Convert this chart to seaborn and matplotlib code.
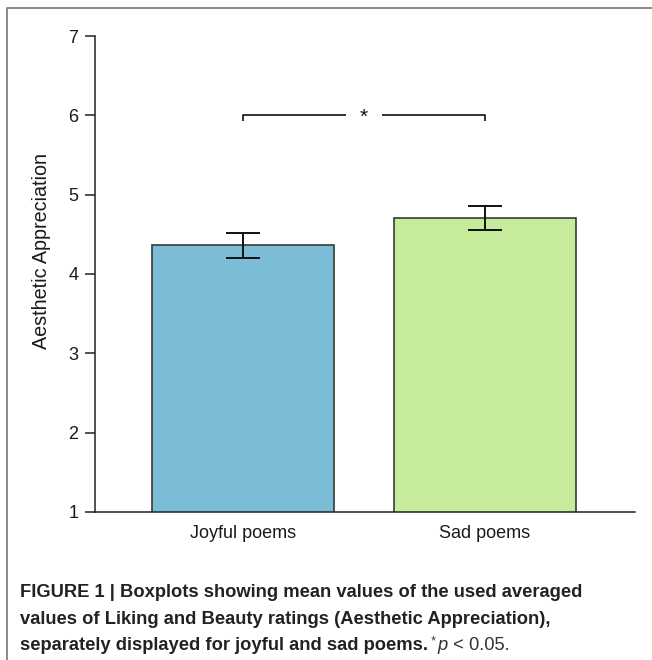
import matplotlib
matplotlib.use("Agg")
import matplotlib.pyplot as plt
from matplotlib.lines import Line2D
import numpy as np
import pandas as pd
import seaborn as sns

# ---------------------------------------------------------------------------
CATEGORIES = ["Joyful poems", "Sad poems"]
MEANS      = [4.36, 4.71]
SEMS       = [0.16, 0.15]
COLORS     = ["#7bbdd6", "#c5eb9b"]
Y_TICKS    = [1, 2, 3, 4, 5, 6, 7]
Y_LABEL    = "Aesthetic Appreciation"
SIG_LABEL  = "*"
SIG_Y      = 6.0

CAPTION_BOLD = [
    "FIGURE 1 | Boxplots showing mean values of the used averaged",
    "values of Liking and Beauty ratings (Aesthetic Appreciation),",
    "separately displayed for joyful and sad poems.",
]

sns.set_style("white")
plt.rcParams["font.family"] = ["Liberation Sans", "DejaVu Sans"]

df = pd.DataFrame({"group": CATEGORIES, "score": MEANS})

fig = plt.figure(figsize=(6.52, 6.60), dpi=100)
ax = fig.add_axes([95 / 652, 1 - 512 / 660, 540 / 652, 476 / 660])

sns.barplot(data=df, x="group", y="score", hue="group", palette=COLORS,
            saturation=1, width=0.75, edgecolor="#3a3a3a", linewidth=1.2,
            errorbar=None, legend=False, ax=ax)
pos = np.arange(len(CATEGORIES))
ax.errorbar(pos, MEANS, yerr=SEMS, fmt="none", ecolor="#111111",
            elinewidth=1.4, capsize=12.5, capthick=1.4, zorder=5)

# significance bracket
tick_h = 0.075
gap = 0.075
mid = pos.mean()
bkw = dict(color="#111111", lw=1.2, solid_capstyle="butt")
ax.plot([pos[0], pos[0], mid - gap], [SIG_Y - tick_h, SIG_Y, SIG_Y], **bkw)
ax.plot([mid + gap, pos[1], pos[1]], [SIG_Y, SIG_Y, SIG_Y - tick_h], **bkw)
ax.text(mid, SIG_Y - 0.02, SIG_LABEL, ha="center", va="center", fontsize=15,
        color="#111111")

ax.set_ylim(Y_TICKS[0], Y_TICKS[-1])
ax.set_xlim(-0.61, 1.62)
ax.set_yticks(Y_TICKS)
ax.set_xlabel("")
ax.set_ylabel(Y_LABEL, fontsize=14.2, color="#1a1a1a")
ax.yaxis.set_label_coords(-0.081, 0.548)
ax.tick_params(axis="y", length=7, width=1.1, color="#222222", pad=5,
               labelsize=13, labelcolor="#1a1a1a", left=True)
ax.tick_params(axis="x", length=0, pad=9, labelsize=13, labelcolor="#1a1a1a")
sns.despine(ax=ax)
for side in ["left", "bottom"]:
    ax.spines[side].set_color("#222222")
    ax.spines[side].set_linewidth(1.1)

# frame around the figure (left + top only, as in the print layout)
fig.add_artist(Line2D([7 / 652, 7 / 652, 1.0], [0.0, 1 - 8 / 660, 1 - 8 / 660],
                      transform=fig.transFigure, color="#8a8a8a", lw=1.4))

# caption
cap_size = 13.2
cap_kw = dict(fontsize=cap_size, color="#222222", va="baseline")
base_y = [597, 624, 650]
last = None
for line, yy in zip(CAPTION_BOLD, base_y):
    last = fig.text(20 / 652, 1 - yy / 660, line, weight="bold", **cap_kw)

ax.annotate(" *", xy=(1, 0), xycoords=last, xytext=(0, 4),
            textcoords="offset points", va="bottom", ha="left",
            fontsize=8.5, color="#333333")
pp = ax.annotate("p", xy=(1, 0), xycoords=last, xytext=(7, 0),
                 textcoords="offset points", va="bottom", ha="left",
                 fontsize=cap_size, style="italic", color="#333333")
ax.annotate(" < 0.05.", xy=(1, 0), xycoords=pp, va="bottom", ha="left",
            fontsize=cap_size, color="#333333")

fig.savefig("out.png", dpi=100)
plt.close(fig)
